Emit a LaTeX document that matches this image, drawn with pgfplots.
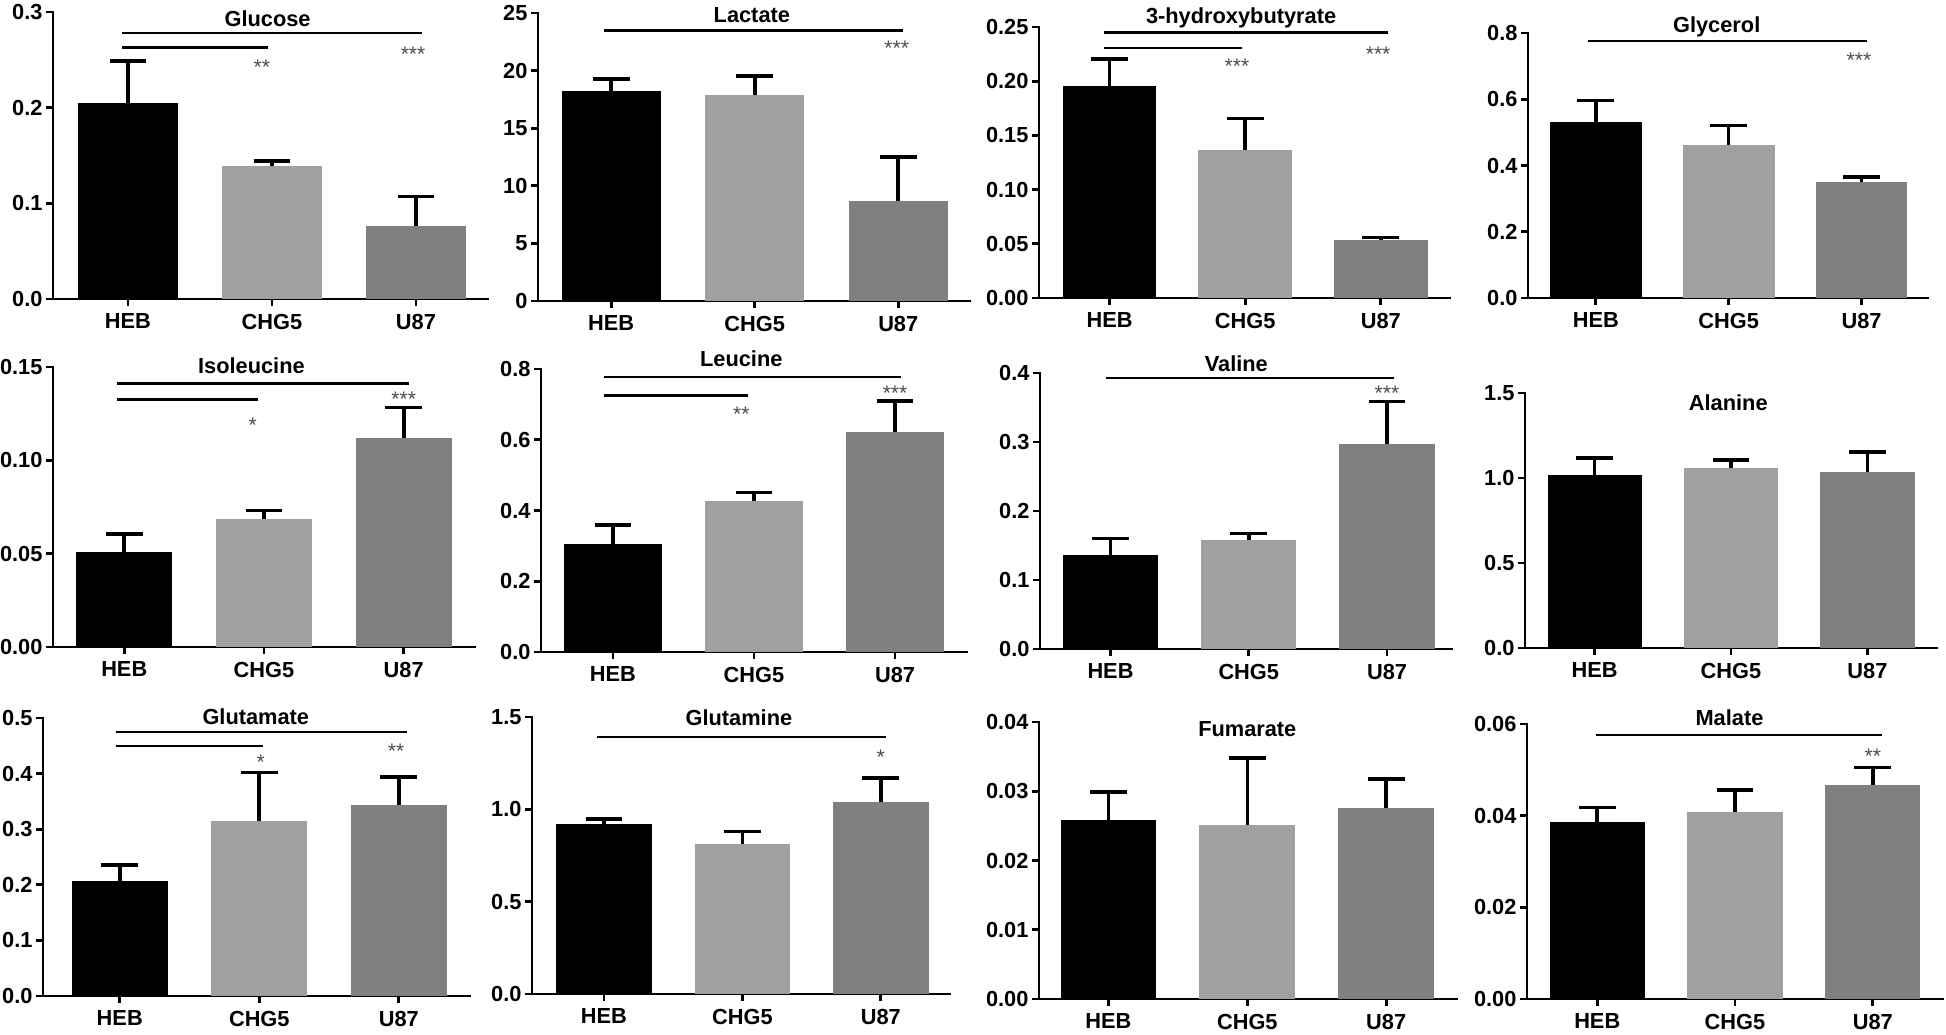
\documentclass[border=0pt]{standalone}
\usepackage{fontspec}
\setmainfont{Liberation Sans}
\usepackage{pgfplots}
\pgfplotsset{compat=1.18}
\definecolor{cchg}{HTML}{A0A0A0}
\definecolor{cu}{HTML}{808080}
\pgfplotsset{
  panel/.style={
    scale only axis, clip=false, anchor=south west,
    axis lines*=left,
    axis line style={line width=0.7mm, line cap=rect},
    ymin=0, scaled y ticks=false,
    xtick={0,1,2}, xticklabels={HEB,CHG5,U87},
    tick align=outside,
    major tick length=1.7mm,
    minor tick num=0,
    tick style={line width=0.7mm, black},
    ticklabel style={font=\bfseries\fontsize{15.5}{18}\selectfont},
    xticklabel style={yshift=-0.8mm},
    yticklabel style={xshift=0.3mm},
  },
  barbase/.style={ybar, bar width=0.69, draw=none,
    error bars/y dir=plus, error bars/y explicit,
    error bars/error mark=|,
    error bars/error bar style={line width=0.9mm, black, line cap=butt},
    error bars/error mark options={line width=0.9mm, black, mark size=4.6mm, line cap=butt}},
  hebbar/.style={fill=black, barbase},
  chgbar/.style={fill=cchg, barbase},
  ubar/.style={fill=cu, barbase},
}
\tikzset{
  ttl/.style={anchor=base, font=\bfseries\fontsize{15.5}{18}\selectfont},
  sig/.style={line width=0.65mm, black},
  star/.style={anchor=north, yshift=0.9mm, inner sep=0pt, font=\fontsize{15}{18}\selectfont, text=black!70},
}
\begin{document}
\begin{tikzpicture}
\useasboundingbox (0,0) rectangle (486.5mm,-258.5mm);
% ---------- Row 1 ----------
\begin{axis}[panel, at={(13.25mm,-74.75mm)}, width=108.75mm, height=71.75mm,
  xmin=-0.52, xmax=2.5, ymax=0.3, ytick={0,0.1,0.2,0.3}, yticklabels={0.0,0.1,0.2,0.3}]
\addplot[hebbar] coordinates {(0,0.205) +- (0,0.044)};
\addplot[chgbar] coordinates {(1,0.139) +- (0,0.005)};
\addplot[ubar] coordinates {(2,0.076) +- (0,0.031)};
\draw[sig] (axis cs:-0.04,0.278) -- (axis cs:2.04,0.278);
\draw[sig] (axis cs:-0.04,0.263) -- (axis cs:0.97,0.263);
\node[star] at (axis cs:0.93,0.246) {**};
\node[star] at (axis cs:1.98,0.26) {***};
\node[ttl] at (axis cs:0.97,0.285) {Glucose};
\end{axis}
\begin{axis}[panel, at={(134.5mm,-75.25mm)}, width=108mm, height=72mm,
  xmin=-0.51, xmax=2.5, ymax=25, ytick={0,5,10,15,20,25}, yticklabels={0,5,10,15,20,25}]
\addplot[hebbar] coordinates {(0,18.2) +- (0,1.05)};
\addplot[chgbar] coordinates {(1,17.85) +- (0,1.7)};
\addplot[ubar] coordinates {(2,8.65) +- (0,3.85)};
\draw[sig] (axis cs:-0.05,23.5) -- (axis cs:2.03,23.5);
\node[star] at (axis cs:1.99,22.3) {***};
\node[ttl] at (axis cs:0.98,24.2) {Lactate};
\end{axis}
\begin{axis}[panel, at={(259.75mm,-74.5mm)}, width=102.75mm, height=67.75mm,
  xmin=-0.52, xmax=2.51, ymax=0.25, ytick={0,0.05,0.1,0.15,0.2,0.25}, yticklabels={0.00,0.05,0.10,0.15,0.20,0.25}]
\addplot[hebbar] coordinates {(0,0.196) +- (0,0.0245)};
\addplot[chgbar] coordinates {(1,0.1365) +- (0,0.029)};
\addplot[ubar] coordinates {(2,0.0532) +- (0,0.0025)};
\draw[sig] (axis cs:-0.04,0.2448) -- (axis cs:2.05,0.2448);
\draw[sig] (axis cs:-0.04,0.2306) -- (axis cs:0.98,0.2306);
\node[star] at (axis cs:0.94,0.2177) {***};
\node[star] at (axis cs:1.98,0.2285) {***};
\node[ttl] at (axis cs:0.97,0.253) {3-hydroxybutyrate};
\end{axis}
\begin{axis}[panel, at={(382mm,-74.5mm)}, width=100mm, height=66.25mm,
  xmin=-0.51, xmax=2.5, ymax=0.8, ytick={0,0.2,0.4,0.6,0.8}, yticklabels={0.0,0.2,0.4,0.6,0.8}]
\addplot[hebbar] coordinates {(0,0.530) +- (0,0.066)};
\addplot[chgbar] coordinates {(1,0.463) +- (0,0.058)};
\addplot[ubar] coordinates {(2,0.350) +- (0,0.015)};
\draw[sig] (axis cs:-0.06,0.776) -- (axis cs:2.04,0.776);
\node[star] at (axis cs:1.98,0.7296) {***};
\node[ttl] at (axis cs:0.91,0.801) {Glycerol};
\end{axis}
% ---------- Row 2 ----------
\begin{axis}[panel, at={(13.25mm,-161.75mm)}, width=105.5mm, height=70mm,
  xmin=-0.51, xmax=2.51, ymax=0.15, ytick={0,0.05,0.1,0.15}, yticklabels={0.00,0.05,0.10,0.15}]
\addplot[hebbar] coordinates {(0,0.0509) +- (0,0.0096)};
\addplot[chgbar] coordinates {(1,0.0688) +- (0,0.0044)};
\addplot[ubar] coordinates {(2,0.112) +- (0,0.0164)};
\draw[sig] (axis cs:-0.05,0.1413) -- (axis cs:2.04,0.1413);
\draw[sig] (axis cs:-0.05,0.1327) -- (axis cs:0.96,0.1327);
\node[star] at (axis cs:0.92,0.121) {*};
\node[star] at (axis cs:2.0,0.1346) {***};
\node[ttl] at (axis cs:0.91,0.1463) {Isoleucine};
\end{axis}
\begin{axis}[panel, at={(135.25mm,-163mm)}, width=106.5mm, height=70.75mm,
  xmin=-0.51, xmax=2.51, ymax=0.8, ytick={0,0.2,0.4,0.6,0.8}, yticklabels={0.0,0.2,0.4,0.6,0.8}]
\addplot[hebbar] coordinates {(0,0.306) +- (0,0.053)};
\addplot[chgbar] coordinates {(1,0.427) +- (0,0.0235)};
\addplot[ubar] coordinates {(2,0.621) +- (0,0.089)};
\draw[sig] (axis cs:-0.06,0.7776) -- (axis cs:2.04,0.7776);
\draw[sig] (axis cs:-0.06,0.7257) -- (axis cs:0.96,0.7257);
\node[star] at (axis cs:0.91,0.683) {**};
\node[star] at (axis cs:2.0,0.742) {***};
\node[ttl] at (axis cs:0.91,0.806) {Leucine};
\end{axis}
\begin{axis}[panel, at={(260mm,-162.25mm)}, width=103mm, height=69mm,
  xmin=-0.51, xmax=2.47, ymax=0.4, ytick={0,0.1,0.2,0.3,0.4}, yticklabels={0.0,0.1,0.2,0.3,0.4}]
\addplot[hebbar] coordinates {(0,0.1367) +- (0,0.0233)};
\addplot[chgbar] coordinates {(1,0.158) +- (0,0.0096)};
\addplot[ubar] coordinates {(2,0.2976) +- (0,0.061)};
\draw[sig] (axis cs:-0.03,0.3928) -- (axis cs:2.05,0.3928);
\node[star] at (axis cs:2.0,0.376) {***};
\node[ttl] at (axis cs:0.91,0.402) {Valine};
\end{axis}
\begin{axis}[panel, at={(381.25mm,-162mm)}, width=103mm, height=63.75mm,
  xmin=-0.51, xmax=2.51, ymax=1.5, ytick={0,0.5,1,1.5}, yticklabels={0.0,0.5,1.0,1.5}]
\addplot[hebbar] coordinates {(0,1.017) +- (0,0.102)};
\addplot[chgbar] coordinates {(1,1.056) +- (0,0.049)};
\addplot[ubar] coordinates {(2,1.033) +- (0,0.121)};
\node[ttl] at (axis cs:0.98,1.398) {Alanine};
\end{axis}
% ---------- Row 3 ----------
\begin{axis}[panel, at={(10.75mm,-249mm)}, width=106.75mm, height=69.5mm,
  xmin=-0.55, xmax=2.51, ymax=0.5, ytick={0,0.1,0.2,0.3,0.4,0.5}, yticklabels={0.0,0.1,0.2,0.3,0.4,0.5}]
\addplot[hebbar] coordinates {(0,0.2065) +- (0,0.0295)};
\addplot[chgbar] coordinates {(1,0.314) +- (0,0.088)};
\addplot[ubar] coordinates {(2,0.344) +- (0,0.050)};
\draw[sig] (axis cs:-0.03,0.4748) -- (axis cs:2.06,0.4748);
\draw[sig] (axis cs:-0.03,0.450) -- (axis cs:1.03,0.450);
\node[star] at (axis cs:1.01,0.428) {*};
\node[star] at (axis cs:1.98,0.4478) {**};
\node[ttl] at (axis cs:0.975,0.488) {Glutamate};
\end{axis}
\begin{axis}[panel, at={(133mm,-248.5mm)}, width=104.5mm, height=69.25mm,
  xmin=-0.52, xmax=2.5, ymax=1.5, ytick={0,0.5,1,1.5}, yticklabels={0.0,0.5,1.0,1.5}]
\addplot[hebbar] coordinates {(0,0.921) +- (0,0.027)};
\addplot[chgbar] coordinates {(1,0.814) +- (0,0.067)};
\addplot[ubar] coordinates {(2,1.040) +- (0,0.130)};
\draw[sig] (axis cs:-0.05,1.392) -- (axis cs:2.04,1.392);
\node[star] at (axis cs:2.0,1.305) {*};
\node[ttl] at (axis cs:0.975,1.453) {Glutamine};
\end{axis}
\begin{axis}[panel, at={(259.75mm,-249.75mm)}, width=104.5mm, height=69.25mm,
  xmin=-0.5, xmax=2.51, ymax=0.04, ytick={0,0.01,0.02,0.03,0.04}, yticklabels={0.00,0.01,0.02,0.03,0.04}]
\addplot[hebbar] coordinates {(0,0.0259) +- (0,0.0040)};
\addplot[chgbar] coordinates {(1,0.0251) +- (0,0.0097)};
\addplot[ubar] coordinates {(2,0.0276) +- (0,0.0042)};
\node[ttl] at (axis cs:1.0,0.03784) {Fumarate};
\end{axis}
\begin{axis}[panel, at={(381.75mm,-249.75mm)}, width=104mm, height=68.75mm,
  xmin=-0.51, xmax=2.51, ymax=0.06, ytick={0,0.02,0.04,0.06}, yticklabels={0.00,0.02,0.04,0.06}]
\addplot[hebbar] coordinates {(0,0.0387) +- (0,0.0031)};
\addplot[chgbar] coordinates {(1,0.0409) +- (0,0.0047)};
\addplot[ubar] coordinates {(2,0.0468) +- (0,0.0037)};
\draw[sig] (axis cs:-0.01,0.0576) -- (axis cs:2.07,0.0576);
\node[star] at (axis cs:2.0,0.0539) {**};
\node[ttl] at (axis cs:0.96,0.0596) {Malate};
\end{axis}
\end{tikzpicture}
\end{document}
